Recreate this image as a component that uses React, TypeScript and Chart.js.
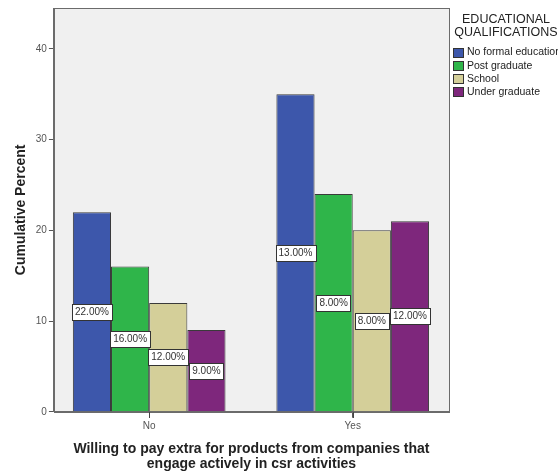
import React, { useEffect, useRef } from "react";
import { Chart, registerables } from "chart.js";

Chart.register(...registerables);

const categories = ["No", "Yes"];
const seriesNames = ["No formal education", "Post graduate", "School", "Under graduate"];
const seriesColors = ["#3d57ab", "#2fb54a", "#d4cf99", "#7e277c"];
const noFormal = [22, 35];
const postGrad = [16, 24];
const school = [12, 20];
const underGrad = [9, 21];
const labelNoFormal = ["22.00%", "13.00%"];
const labelPostGrad = ["16.00%", "8.00%"];
const labelSchool = ["12.00%", "8.00%"];
const labelUnderGrad = ["9.00%", "12.00%"];
const yTicks = [0, 10, 20, 30, 40];
const legendTitle = ["EDUCATIONAL", "QUALIFICATIONS"];
const xTitle = ["Willing to pay extra for products from companies that", "engage actively in csr activities"];
const yTitle = "Cumulative Percent";

const FONT = "'Liberation Sans', Arial, Helvetica, sans-serif";

const seriesValues = [noFormal, postGrad, school, underGrad];
const seriesLabels = [labelNoFormal, labelPostGrad, labelSchool, labelUnderGrad];

const framePlugin = {
  id: "frame",
  beforeDraw(chart: any) {
    const { ctx, chartArea: a } = chart;
    ctx.save();
    ctx.fillStyle = "#f0f0f0";
    ctx.fillRect(a.left, a.top, a.right - a.left, a.bottom - a.top);
    ctx.restore();
  },
  afterDatasetsDraw(chart: any) {
    const { ctx, chartArea: a } = chart;
    ctx.save();
    ctx.strokeStyle = "#6b6b6b";
    ctx.lineWidth = 1;
    ctx.strokeRect(Math.round(a.left) + 0.5, Math.round(a.top) + 0.5, Math.round(a.right - a.left), Math.round(a.bottom - a.top));
    const xs = chart.scales.x;
    ctx.strokeStyle = "#444444";
    categories.forEach((_, i) => {
      const px = Math.round(xs.getPixelForValue(i)) + 0.5;
      ctx.beginPath();
      ctx.moveTo(px, Math.round(a.bottom));
      ctx.lineTo(px, Math.round(a.bottom) + 6);
      ctx.stroke();
    });
    ctx.restore();
  },
};

const labelPlugin = {
  id: "boxLabels",
  afterDatasetsDraw(chart: any) {
    const ctx = chart.ctx;
    ctx.save();
    ctx.font = `10px ${FONT}`;
    ctx.textAlign = "center";
    ctx.textBaseline = "middle";
    chart.data.datasets.forEach((ds: any, di: number) => {
      const meta = chart.getDatasetMeta(di);
      meta.data.forEach((bar: any, i: number) => {
        const text = seriesLabels[di][i];
        const cx = bar.x;
        const cy = (bar.y + bar.base) / 2;
        const w = ctx.measureText(text).width + 6;
        const h = 16;
        const x0 = Math.round(cx - w / 2) + 0.5;
        const y0 = Math.round(cy - h / 2) + 0.5;
        ctx.fillStyle = "#ffffff";
        ctx.fillRect(x0, y0, Math.round(w), h);
        ctx.strokeStyle = "#333333";
        ctx.lineWidth = 1;
        ctx.strokeRect(x0, y0, Math.round(w), h);
        ctx.fillStyle = "#333333";
        ctx.fillText(text, cx, cy + 0.5);
      });
    });
    ctx.restore();
  },
};

const legendPlugin = {
  id: "customLegend",
  afterDraw(chart: any) {
    const ctx = chart.ctx;
    ctx.save();
    ctx.fillStyle = "#222222";
    ctx.font = `12.5px ${FONT}`;
    ctx.textAlign = "center";
    ctx.textBaseline = "middle";
    legendTitle.forEach((t, i) => ctx.fillText(t, 506, 20 + i * 13));
    ctx.font = `10.5px ${FONT}`;
    ctx.textAlign = "left";
    chart.data.datasets.forEach((ds: any, i: number) => {
      const y = 52 + i * 13.3;
      ctx.fillStyle = ds.backgroundColor;
      ctx.fillRect(453.5, Math.round(y - 4.5) + 0.5, 10, 9);
      ctx.strokeStyle = "#333333";
      ctx.lineWidth = 1;
      ctx.strokeRect(453.5, Math.round(y - 4.5) + 0.5, 10, 9);
      ctx.fillStyle = "#222222";
      ctx.fillText(ds.label, 467, y + 0.5);
    });
    ctx.restore();
  },
};

export default function App() {
  const ref = useRef<HTMLCanvasElement>(null);
  useEffect(() => {
    if (!ref.current) return;
    const chart = new Chart(ref.current, {
      type: "bar",
      data: {
        datasets: seriesNames.map((name, si) => ({
          label: name,
          data: seriesValues[si].map((v, i) => ({ x: i, y: v })),
          backgroundColor: seriesColors[si],
          borderColor: "#3a3a3a",
          borderWidth: 1,
          categoryPercentage: 0.75,
          barPercentage: 1,
        })),
      },
      options: {
        responsive: false,
        animation: false,
        layout: { padding: { left: 13, right: 109, top: 8, bottom: 2 } },
        plugins: {
          legend: { display: false },
          tooltip: { enabled: false },
        },
        scales: {
          x: {
            type: "linear",
            min: -0.468,
            max: 1.473,
            offset: false,
            afterBuildTicks: (axis: any) => {
              axis.ticks = categories.map((_, i) => ({ value: i }));
            },
            ticks: {
              callback: (v: any) => categories[v] ?? "",
              color: "#555555",
              font: { family: FONT, size: 10 },
              padding: 2,
              maxRotation: 0,
            },
            grid: { offset: false, drawOnChartArea: false, drawTicks: true, tickLength: 6, color: "#555555" },
            border: { display: true, color: "#6b6b6b" },
            title: {
              display: true,
              text: xTitle,
              color: "#222222",
              font: { family: FONT, size: 14, weight: "bold", lineHeight: 1.08 },
              padding: { top: 8, bottom: 0 },
            },
          },
          y: {
            min: 0,
            max: 44.5,
            afterBuildTicks: (axis: any) => {
              axis.ticks = yTicks.map((v) => ({ value: v }));
            },
            ticks: {
              color: "#555555",
              font: { family: FONT, size: 10 },
              padding: 2,
            },
            grid: { drawOnChartArea: false, drawTicks: true, tickLength: 5, color: "#555555" },
            border: { display: true, color: "#6b6b6b" },
            title: {
              display: true,
              text: yTitle,
              color: "#222222",
              font: { family: FONT, size: 14, weight: "bold" },
              padding: { top: 0, bottom: 4 },
            },
          },
        },
      },
      plugins: [framePlugin, labelPlugin, legendPlugin],
    } as any);
    return () => chart.destroy();
  }, []);
  return (
    <div style={{ position: "fixed", left: 0, top: 0, width: 558, height: 474, background: "#ffffff" }}>
      <canvas ref={ref} width={558} height={474} style={{ display: "block" }} />
    </div>
  );
}
